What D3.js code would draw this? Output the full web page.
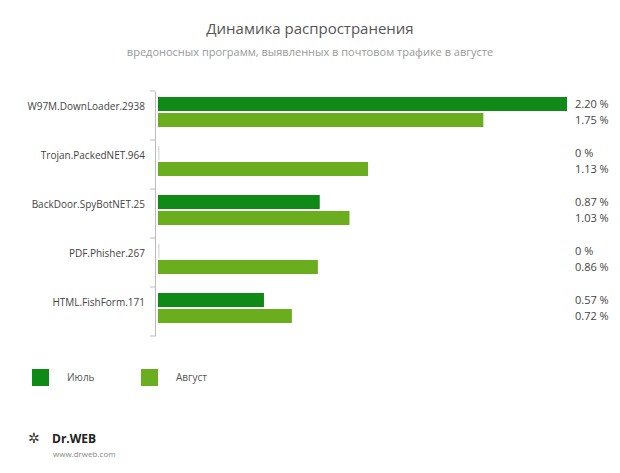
<!DOCTYPE html>
<html><head><meta charset="utf-8">
<script src="https://cdn.jsdelivr.net/npm/d3@7"></script>
<style>body{margin:0;background:#fff}</style>
</head><body>
<script>
var categories = ["W97M.DownLoader.2938", "Trojan.PackedNET.964", "BackDoor.SpySpyBotNET.25".replace("SpySpy","Spy"), "PDF.Phisher.267", "HTML.FishForm.171"];
var july = [2.20, 0, 0.87, 0, 0.57];
var august = [1.75, 1.13, 1.03, 0.86, 0.72];
var seriesNames = ["Июль", "Август"];
var colors = ["#0f8a16", "#6aad1e"];

var svg = d3.select("body").append("svg").attr("width", 620).attr("height", 473)
  .style("font-family", "'Open Sans', sans-serif");

svg.append("text").attr("x", 310).attr("y", 34).attr("text-anchor", "middle")
  .attr("font-size", 15).attr("fill", "#555").text("Динамика распространения");
svg.append("text").attr("x", 310).attr("y", 56).attr("text-anchor", "middle")
  .attr("font-size", 11).attr("fill", "#999").text("вредоносных программ, выявленных в почтовом трафике в августе");

var x = d3.scaleLinear().domain([0, 2.2]).range([158, 567]);
var y = d3.scaleBand().domain(categories).range([91, 336]);

var ax = svg.append("g").attr("transform", "translate(155,0)")
  .call(d3.axisLeft(y).tickSize(0).tickPadding(10));
ax.select(".domain").attr("stroke", "#bbb");
ax.selectAll("text").attr("font-size", 10).attr("fill", "#444").attr("dy", "-0.55em")
  .style("font-family", "'Open Sans', sans-serif");
// tick marks on band edges
var edges = categories.map(function (c) { return y(c); }).concat([336]);
svg.selectAll(".edge").data(edges).enter().append("line")
  .attr("x1", 150).attr("x2", 155).attr("y1", function (d) { return d; }).attr("y2", function (d) { return d; })
  .attr("stroke", "#bbb");

[july, august].forEach(function (vals, s) {
  var g = svg.append("g");
  g.selectAll("rect").data(vals).enter().append("rect")
    .attr("x", x(0))
    .attr("y", function (d, i) { return y(categories[i]) + 6 + s * 16; })
    .attr("width", function (d) { return Math.max(1.5, x(d) - x(0)); })
    .attr("height", 14)
    .attr("fill", function (d) { return d === 0 ? "#ddd" : colors[s]; });
  g.selectAll("text").data(vals).enter().append("text")
    .attr("x", 575)
    .attr("y", function (d, i) { return y(categories[i]) + 17 + s * 16; })
    .attr("font-size", 11).attr("fill", "#444")
    .text(function (d) { return (d === 0 ? "0" : d.toFixed(2)) + " %"; });
});

seriesNames.forEach(function (n, i) {
  svg.append("rect").attr("x", 32 + i * 109).attr("y", 369).attr("width", 17).attr("height", 17).attr("fill", colors[i]);
  svg.append("text").attr("x", 67 + i * 109).attr("y", 381).attr("font-size", 10).attr("fill", "#555").text(n);
});

svg.append("text").attr("x", 28).attr("y", 443).attr("font-size", 14).attr("fill", "#333").text("✲");
svg.append("text").attr("x", 52).attr("y", 443).attr("font-size", 12).attr("font-weight", "bold").attr("fill", "#222").text("Dr.WEB");
svg.append("text").attr("x", 53).attr("y", 457).attr("font-size", 8).attr("fill", "#888").text("www.drweb.com");
</script>
</body></html>
